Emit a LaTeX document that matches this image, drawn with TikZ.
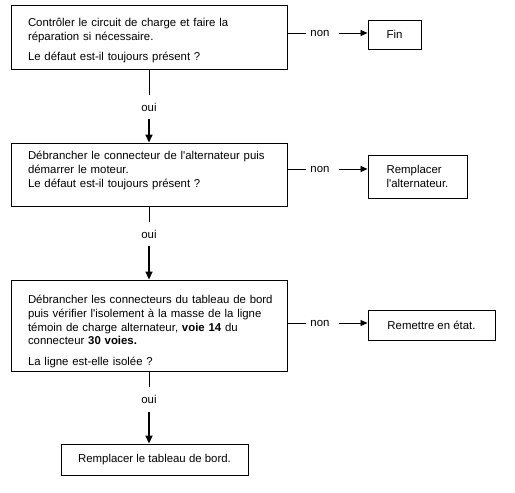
\documentclass[tikz,border=0pt]{standalone}
\usepackage{fontspec}
\setmainfont{Liberation Sans}[Ligatures=TeXOff]
\usetikzlibrary{arrows.meta}
\newcommand\diagfs{\fontsize{11.4}{13.9}\selectfont}
\begin{document}
\begin{tikzpicture}[x=1pt,y=-1pt,
  box/.style={draw,line width=0.9pt,inner ysep=0pt,align=left,font=\diagfs},
  lbl/.style={inner xsep=4pt,inner ysep=8pt,font=\diagfs},
  ln/.style={line width=0.8pt},
  harr/.style={line width=0.8pt,-{Triangle[length=7pt,width=6pt]}},
  varr/.style={line width=1.6pt,-{Triangle[length=8pt,width=7pt]}}]
\useasboundingbox (0,0) rectangle (515,493);
\fill[white] (0,0) rectangle (515,493);
% boxes
\node[box,text width=242pt,inner xsep=17pt,minimum height=64pt] (b1) at (149,37)
  {\rule{0pt}{15pt}\mbox{Contrôler le circuit de charge et faire la}\\ réparation si nécessaire.\\[6.5pt] \mbox{Le défaut est-il toujours présent ?}};
\node[box,text width=242pt,inner xsep=17pt,minimum height=63pt] (b2) at (149,174.5)
  {\mbox{Débrancher le connecteur de l'alternateur puis}\\ démarrer le moteur.\\ \mbox{Le défaut est-il toujours présent ?}\\[-4pt]~};
\node[box,text width=242pt,inner xsep=17pt,minimum height=91pt] (b3) at (149,325.5)
  {\rule{0pt}{20pt}\mbox{Débrancher les connecteurs du tableau de bord}\\ \mbox{puis vérifier l'isolement à la masse de la ligne}\\ \mbox{témoin de charge alternateur, \textbf{voie 14} du}\\ connecteur \textbf{30 voies.}\\[6.5pt] La ligne est-elle isolée ?};
\node[box,minimum width=53pt,minimum height=29pt] (fin) at (394.5,34.5) {Fin};
\node[box,minimum width=99pt,minimum height=43pt] (rep) at (417.5,176.5) {Remplacer\\ l'alternateur.};
\node[box,minimum width=127pt,minimum height=30pt] (rem) at (431.5,325) {Remettre en état.};
\node[box,minimum width=187pt,minimum height=31pt] (fb) at (154.5,459.5) {Remplacer le tableau de bord.};
% labels
\node[lbl] (n1) at (320,33) {non};
\node[lbl] (n2) at (320,169) {non};
\node[lbl] (n3) at (320,323) {non};
\node[lbl] (o1) at (149,107) {oui};
\node[lbl] (o2) at (149,234) {oui};
\node[lbl] (o3) at (149,399.5) {oui};
% connectors
\draw[ln] (b1.east |- n1) -- (n1);
\draw[harr,shorten <=5pt] (n1) -- (fin.west |- n1);
\draw[ln] (b2.east |- n2) -- (n2);
\draw[harr,shorten <=5pt] (n2) -- (rep.west |- n2);
\draw[ln] (b3.east |- n3) -- (n3);
\draw[harr,shorten <=5pt] (n3) -- (rem.west |- n3);
\draw[ln] (b1.south) -- (o1);
\draw[varr] (o1) -- (b2.north);
\draw[ln] (b2.south) -- (o2);
\draw[varr] (o2) -- (b3.north);
\draw[ln] (b3.south) -- (o3);
\draw[varr] (o3) -- (o3 |- fb.north);
\end{tikzpicture}
\end{document}
